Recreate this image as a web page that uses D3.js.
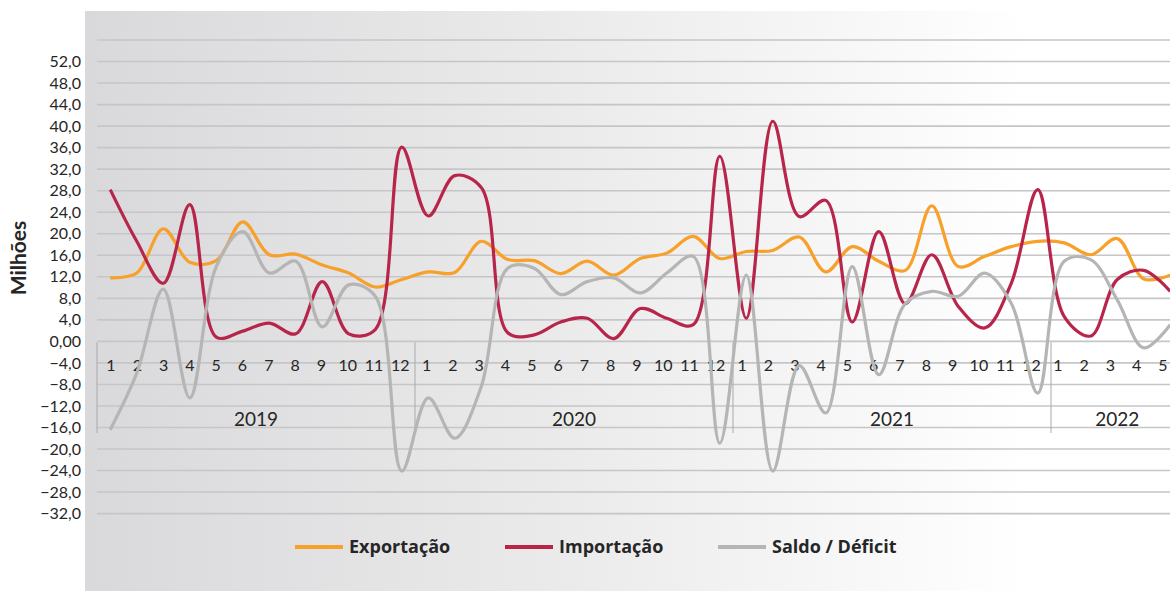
<!DOCTYPE html>
<html>
<head>
<meta charset="utf-8">
<script src="https://cdn.jsdelivr.net/npm/d3@7"></script>
<style>
  body { margin: 0; background: #fff; }
  #chart { width: 1170px; height: 591px; overflow: hidden; }
  text { font-family: Lato, "Open Sans", sans-serif; fill: #262626; }
</style>
</head>
<body>
<div id="chart"></div>
<script>
// months 2019-01 .. 2022-05
var years = ["2019", "2020", "2021", "2022"];
var monthsPerYear = [12, 12, 12, 5];

var exportacao = [11.8, 12.7, 20.9, 14.7, 15.0, 22.2, 16.1, 16.2, 14.2, 12.7, 10.1, 11.5,
                  12.9, 12.8, 18.6, 15.2, 15.0, 12.6, 14.9, 12.3, 15.4, 16.4, 19.5, 15.4,
                  16.7, 16.9, 19.4, 12.9, 17.6, 14.9, 13.2, 25.2, 13.9, 15.8, 17.6, 18.6,
                  18.3, 16.1, 19.1, 11.6, 12.3];
var importacao = [28.2, 18.6, 10.8, 25.4, 0.8, 1.9, 3.4, 1.4, 11.1, 1.4, 2.2, 36.1,
                  23.3, 30.8, 28.6, 1.6, 1.2, 3.6, 4.3, 0.5, 6.1, 4.3, 3.1, 34.4,
                  4.3, 40.9, 23.2, 26.2, 3.6, 20.4, 7.0, 16.1, 6.5, 2.5, 10.8, 28.2,
                  4.6, 1.0, 11.5, 13.2, 9.3];
var saldo = [-16.4, -5.9, 9.7, -10.5, 13.9, 20.4, 12.7, 14.9, 2.7, 10.5, 8.4, -24.1,
             -10.5, -18.0, -8.4, 13.6, 13.6, 8.7, 11.1, 11.8, 9.0, 12.7, 15.8, -18.9,
             12.3, -24.1, -4.5, -13.3, 13.9, -6.2, 7.0, 9.3, 8.4, 12.7, 7.1, -9.6,
             14.9, 15.2, 7.7, -1.2, 3.1];

var yTicks = [52, 48, 44, 40, 36, 32, 28, 24, 20, 16, 12, 8, 4, 0, -4, -8, -12, -16, -20, -24, -28, -32];
var gridValues = [56].concat(yTicks);

var seriesNames = ["Exportação", "Importação", "Saldo / Déficit"];
var seriesColors = ["#f7a02a", "#b8254b", "#b5b5b5"];

document.addEventListener('DOMContentLoaded', function() {
  drawChart();
});

function drawChart() {
  var W = 1170, H = 591;

  // build category keys + month labels
  var cats = [], monthLabels = [];
  years.forEach(function(yr, k) {
    for (var m = 1; m <= monthsPerYear[k]; m++) {
      cats.push(yr + "-" + m);
      monthLabels.push(m);
    }
  });

  var svg = d3.select("#chart").append("svg")
      .attr("width", W)
      .attr("height", H);

  // background gradient panel
  var grad = svg.append("defs").append("linearGradient")
      .attr("id", "bg")
      .attr("x1", "0%").attr("x2", "100%")
      .attr("y1", "0%").attr("y2", "0%");
  grad.append("stop").attr("offset", "0%").attr("stop-color", "#d9d9db");
  grad.append("stop").attr("offset", "45%").attr("stop-color", "#ebebec");
  grad.append("stop").attr("offset", "87%").attr("stop-color", "#ffffff");

  svg.append("rect")
    .attr("x", 85).attr("y", 11)
    .attr("width", W - 85).attr("height", H - 11)
    .attr("fill", "url(#bg)");

  var step = 26.5;
  var x = d3.scaleBand()
      .domain(cats)
      .range([97, 97 + step * cats.length])
      .padding(0);

  // month labels sit a bit tighter than the data points
  var xLab = d3.scalePoint()
      .domain(cats)
      .range([111, 1163]);

  var y = d3.scaleLinear()
      .domain([-32, 56])
      .range([513.6, 40]);

  // gridlines
  svg.append("g")
    .selectAll("line")
    .data(gridValues)
    .enter().append("line")
      .attr("x1", 97).attr("x2", W)
      .attr("y1", function(d) { return y(d); })
      .attr("y2", function(d) { return y(d); })
      .attr("stroke", "#c6c6c8")
      .attr("stroke-width", 1.6);

  // y axis labels
  var yAxis = d3.axisLeft(y)
      .tickValues(yTicks)
      .tickSize(0)
      .tickPadding(0)
      .tickFormat(function(d) { return d === 0 ? "0,00" : d3.format(".1f")(d).replace(".", ","); });

  var gy = svg.append("g")
      .attr("transform", "translate(81,0)")
      .call(yAxis);
  gy.select(".domain").remove();
  gy.selectAll("text")
    .style("font-family", "Lato, sans-serif")
    .style("font-size", "16px")
    .attr("fill", "#262626");

  // y axis title
  svg.append("text")
    .attr("transform", "translate(26,258) rotate(-90)")
    .style("text-anchor", "middle")
    .style("font-size", "21px")
    .style("font-weight", "bold")
    .text("Milhões");

  // year separators (multi-level category axis)
  var sepIdx = [0, 12, 24, 36];
  svg.append("g")
    .selectAll("line")
    .data(sepIdx)
    .enter().append("line")
      .attr("x1", function(d) { return x(cats[d]); })
      .attr("x2", function(d) { return x(cats[d]); })
      .attr("y1", y(0) + 1)
      .attr("y2", 433)
      .attr("stroke", "#a9a9ab")
      .attr("stroke-width", 1);

  // month labels
  svg.append("g")
    .selectAll("text")
    .data(cats)
    .enter().append("text")
      .attr("x", function(d) { return xLab(d); })
      .attr("y", 371)
      .style("text-anchor", "middle")
      .style("font-size", "16px")
      .text(function(d, i) { return monthLabels[i]; });

  // year labels
  var start = 0;
  years.forEach(function(yr, k) {
    var a = x(cats[start]);
    var b = x(cats[start + monthsPerYear[k] - 1]) + x.bandwidth();
    svg.append("text")
      .attr("x", (a + b) / 2)
      .attr("y", 426)
      .style("text-anchor", "middle")
      .style("font-size", "19px")
      .text(yr);
    start += monthsPerYear[k];
  });

  // series lines, smoothed (centripetal keeps the overshoot down like Excel)
  var line = d3.line()
      .x(function(d, i) { return x(cats[i]) + x.bandwidth() / 2; })
      .y(function(d) { return y(d); })
      .curve(d3.curveCatmullRom.alpha(0.5));

  var allSeries = [exportacao, importacao, saldo];
  allSeries.forEach(function(s, k) {
    svg.append("path")
      .datum(s)
      .attr("fill", "none")
      .attr("stroke", seriesColors[k])
      .attr("stroke-width", 3.2)
      .attr("stroke-linejoin", "round")
      .attr("d", line);
  });

  // legend
  var legX = [295, 505, 718];
  var legend = svg.append("g");
  seriesNames.forEach(function(name, k) {
    legend.append("line")
      .attr("x1", legX[k]).attr("x2", legX[k] + 48)
      .attr("y1", 547).attr("y2", 547)
      .attr("stroke", seriesColors[k])
      .attr("stroke-width", 4);
    legend.append("text")
      .attr("x", legX[k] + 54)
      .attr("y", 553)
      .style("font-family", "'Open Sans', sans-serif")
      .style("font-size", "18px")
      .style("font-weight", "bold")
      .text(name);
  });
}
</script>
</body>
</html>
